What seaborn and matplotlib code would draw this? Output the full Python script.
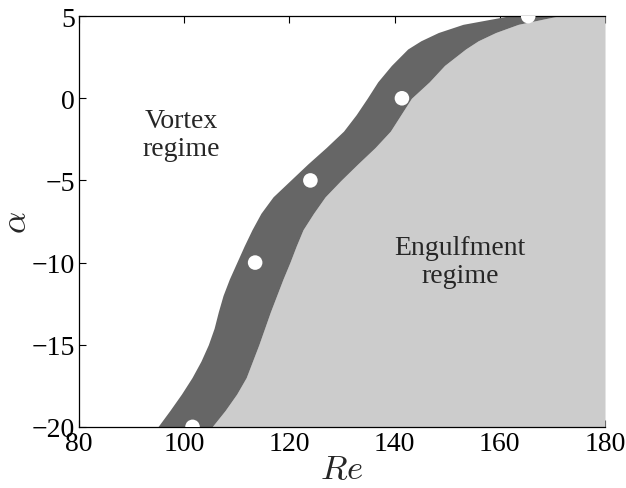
import numpy as np
import pandas as pd
import matplotlib
matplotlib.use("Agg")
import matplotlib.pyplot as plt
import seaborn as sns

# Angle levels at which the transition band edges are given
alpha_levels = [-20, -19, -18, -17, -16, -15, -14, -13, -12, -11, -10, -9, -8, -7,
                -6, -5, -4, -3, -2, -1, 0, 1, 2, 3, 3.5, 4, 4.5, 5]
# Lower-Re edge of the transition band (vortex side)
re_band_low = [95.0, 97.3, 99.5, 101.5, 103.2, 104.6, 105.7, 106.5, 107.4, 108.6,
               110.0, 111.4, 112.9, 114.6, 116.9, 120.2, 123.5, 127.0, 130.3, 132.7,
               134.8, 136.8, 139.4, 142.5, 145.0, 148.3, 153.0, 161.5]
# Higher-Re edge of the transition band (engulfment side)
re_band_high = [105.3, 107.8, 110.0, 111.8, 113.0, 114.2, 115.3, 116.4, 117.6, 118.8,
                120.1, 121.3, 122.6, 124.6, 126.8, 129.8, 133.0, 136.3, 139.2, 141.2,
                143.2, 146.6, 149.5, 153.5, 155.9, 159.2, 163.5, 171.0]

# Computed transition points
re_points = [101.6, 113.5, 124.0, 141.4, 165.4]
alpha_points = [-20, -10, -5, 0, 5]

re_max = 180
x_ticks = [80, 100, 120, 140, 160, 180]
y_ticks = [-20, -15, -10, -5, 0, 5]

sns.set_style("ticks")
plt.rcParams["font.family"] = ["Liberation Serif", "DejaVu Serif"]
plt.rcParams["mathtext.fontset"] = "cm"

fig = plt.figure(figsize=(6.26, 4.89), dpi=100)
ax = fig.add_axes([0.126, 0.125, 0.8405, 0.840])

alpha_arr = np.array(alpha_levels)
ax.fill_betweenx(alpha_arr, re_band_high, re_max, color="#cccccc", lw=0, zorder=1)
ax.fill_betweenx(alpha_arr, re_band_low, re_band_high, color="#666666", lw=0, zorder=1.5)

pts = pd.DataFrame({"Re": re_points, "alpha": alpha_points})
sns.scatterplot(data=pts, x="Re", y="alpha", ax=ax, color="white", s=110,
                edgecolor="none", zorder=3, legend=False)

ax.text(99.5, -2.2, "Vortex\nregime", ha="center", va="center",
        fontsize=20, linespacing=1.15)
ax.text(152.4, -9.95, "Engulfment\nregime", ha="center", va="center",
        fontsize=20, linespacing=1.15)

ax.set_xlim(80, 180)
ax.set_ylim(-20, 5)
ax.set_xticks(x_ticks)
ax.set_yticks(y_ticks)
ax.tick_params(direction="in", length=5, width=0.8, labelsize=20, top=True,
               right=False, pad=3, colors="black")
for side in ["left", "bottom", "top"]:
    ax.spines[side].set_color("black")
    ax.spines[side].set_linewidth(0.9)
ax.spines["right"].set_visible(False)

ax.set_xlabel(r"$Re$", fontsize=25, labelpad=-2)
ax.set_ylabel(r"$\alpha$", fontsize=25, labelpad=-2)

fig.savefig("out.png", dpi=100, facecolor="white")
